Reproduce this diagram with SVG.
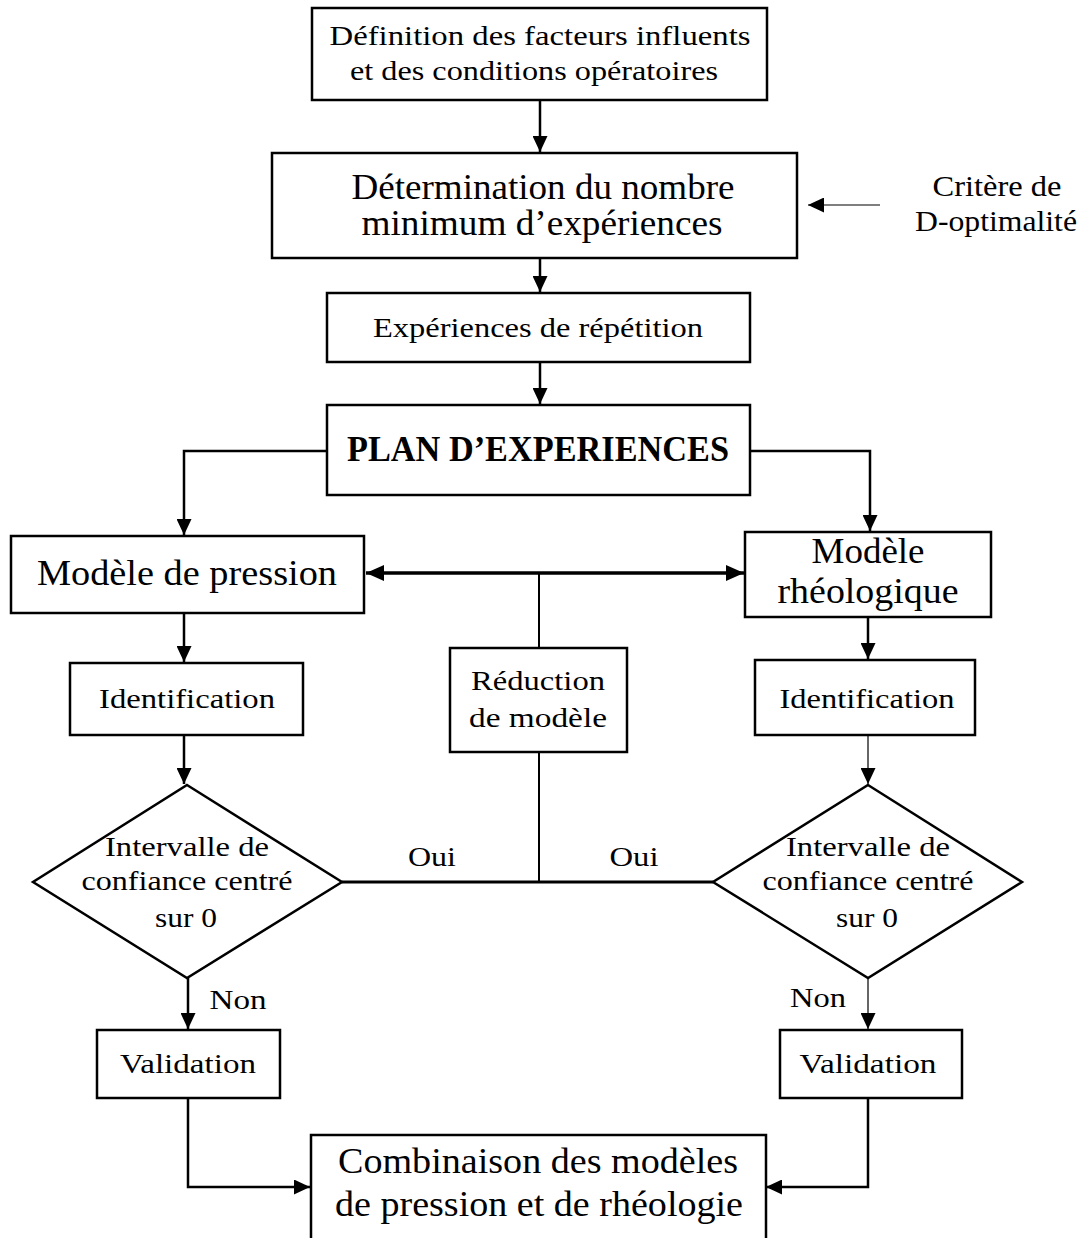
<svg xmlns="http://www.w3.org/2000/svg" width="1085" height="1238" viewBox="0 0 1085 1238">
<style>
.box{fill:#fff;stroke:#000;stroke-width:2.5}
.t{font-family:"Liberation Serif",serif;fill:#000;text-anchor:middle}
.s{font-size:28px}
.l{font-size:36px}
.ln{fill:none;stroke:#000;stroke-width:2.5}
.thin{fill:none;stroke:#000;stroke-width:1.2}
</style>
<defs>
<marker id="ahs" markerWidth="16" markerHeight="15" refX="16" refY="7.5" orient="auto" markerUnits="userSpaceOnUse" viewBox="0 0 16 15">
<path d="M0,0 L16,7.5 L0,15 z" fill="#000"/>
</marker>
<marker id="ahst" markerWidth="18" markerHeight="16" refX="0" refY="8" orient="auto" markerUnits="userSpaceOnUse" viewBox="0 0 18 16">
<path d="M18,0 L0,8 L18,16 z" fill="#000"/>
</marker>
<marker id="ahe" markerWidth="18" markerHeight="16" refX="18" refY="8" orient="auto" markerUnits="userSpaceOnUse" viewBox="0 0 18 16">
<path d="M0,0 L18,8 L0,16 z" fill="#000"/>
</marker>
</defs>
<g id="connectors">
<line class="ln" x1="540" y1="100" x2="540" y2="152" marker-end="url(#ahs)"/>
<line x1="880" y1="205" x2="808" y2="205" stroke="#555" stroke-width="1.5" marker-end="url(#ahs)"/>
<line class="ln" x1="540" y1="258" x2="540" y2="292" marker-end="url(#ahs)"/>
<line class="ln" x1="540" y1="362" x2="540" y2="404" marker-end="url(#ahs)"/>
<polyline class="ln" points="328,451 184,451 184,535" marker-end="url(#ahs)"/>
<polyline class="ln" points="750,451 870,451 870,531" marker-end="url(#ahs)"/>
<line x1="366" y1="573" x2="744" y2="573" stroke="#000" stroke-width="3.5" marker-start="url(#ahst)" marker-end="url(#ahe)"/>
<line x1="539" y1="573" x2="539" y2="648" stroke="#000" stroke-width="2"/>
<line class="ln" x1="184" y1="613" x2="184" y2="662" marker-end="url(#ahs)"/>
<line class="ln" x1="868" y1="617" x2="868" y2="659" marker-end="url(#ahs)"/>
<line class="ln" x1="184" y1="735" x2="184" y2="784" marker-end="url(#ahs)"/>
<line class="thin" x1="868" y1="735" x2="868" y2="784" marker-end="url(#ahs)"/>
<line x1="539" y1="752" x2="539" y2="882" stroke="#000" stroke-width="2"/>
<line x1="342" y1="882" x2="713" y2="882" stroke="#000" stroke-width="3"/>
<line class="ln" x1="188" y1="978" x2="188" y2="1029" marker-end="url(#ahs)"/>
<line class="thin" x1="868" y1="978" x2="868" y2="1029" marker-end="url(#ahs)"/>
<polyline class="ln" points="188,1098 188,1187 310,1187" marker-end="url(#ahs)"/>
<polyline class="ln" points="868,1098 868,1187 766,1187" marker-end="url(#ahs)"/>
<text class="t s" x="432" y="866" textLength="48" lengthAdjust="spacingAndGlyphs">Oui</text>
<text class="t s" x="634" y="866" textLength="49" lengthAdjust="spacingAndGlyphs">Oui</text>
<text class="t s" x="238" y="1009" textLength="57" lengthAdjust="spacingAndGlyphs">Non</text>
<text class="t s" x="818" y="1007" textLength="56" lengthAdjust="spacingAndGlyphs">Non</text>
</g>
<g id="n1"><rect class="box" x="312" y="8" width="455" height="92"/>
<text class="t s" x="540" y="45" textLength="421" lengthAdjust="spacingAndGlyphs">Définition des facteurs influents</text>
<text class="t s" x="534" y="80" textLength="368" lengthAdjust="spacingAndGlyphs">et des conditions opératoires</text></g>
<g id="n2"><rect class="box" x="272" y="153" width="525" height="105"/>
<text class="t l" x="543" y="199" textLength="383" lengthAdjust="spacingAndGlyphs">Détermination du nombre</text>
<text class="t l" x="542" y="235" textLength="361" lengthAdjust="spacingAndGlyphs">minimum d’expériences</text></g>
<g id="crit"><text class="t" font-size="30" x="997" y="196" textLength="129" lengthAdjust="spacingAndGlyphs">Critère de</text>
<text class="t" font-size="30" x="996" y="231" textLength="162" lengthAdjust="spacingAndGlyphs">D-optimalité</text></g>
<g id="n3"><rect class="box" x="327" y="293" width="423" height="69"/>
<text class="t s" x="538" y="337" textLength="330" lengthAdjust="spacingAndGlyphs">Expériences de répétition</text></g>
<g id="n4"><rect class="box" x="327" y="405" width="423" height="90"/>
<text class="t" x="538" y="461" font-size="36" font-weight="bold" textLength="382" lengthAdjust="spacingAndGlyphs">PLAN D’EXPERIENCES</text></g>
<g id="n5"><rect class="box" x="11" y="536" width="353" height="77"/>
<text class="t l" x="187" y="585" textLength="300" lengthAdjust="spacingAndGlyphs">Modèle de pression</text></g>
<g id="n6"><rect class="box" x="745" y="532" width="246" height="85"/>
<text class="t l" x="868" y="563" textLength="113" lengthAdjust="spacingAndGlyphs">Modèle</text>
<text class="t l" x="868" y="603" textLength="181" lengthAdjust="spacingAndGlyphs">rhéologique</text></g>
<g id="n7"><rect class="box" x="450" y="648" width="177" height="104"/>
<text class="t s" x="538" y="690" textLength="134" lengthAdjust="spacingAndGlyphs">Réduction</text>
<text class="t s" x="538" y="727" textLength="138" lengthAdjust="spacingAndGlyphs">de modèle</text></g>
<g id="n8"><rect class="box" x="70" y="663" width="233" height="72"/>
<text class="t s" x="187" y="708" textLength="176" lengthAdjust="spacingAndGlyphs">Identification</text></g>
<g id="n9"><rect class="box" x="755" y="660" width="220" height="75"/>
<text class="t s" x="867" y="708" textLength="175" lengthAdjust="spacingAndGlyphs">Identification</text></g>
<g id="n10"><polygon class="box" points="187,785 342,882 187,978 33,882"/>
<text class="t s" x="187" y="856" textLength="164" lengthAdjust="spacingAndGlyphs">Intervalle de</text>
<text class="t s" x="187" y="890" textLength="211" lengthAdjust="spacingAndGlyphs">confiance centré</text>
<text class="t s" x="186" y="927" textLength="62" lengthAdjust="spacingAndGlyphs">sur 0</text></g>
<g id="n11"><polygon class="box" points="868,785 1022,882 868,978 713,882"/>
<text class="t s" x="868" y="856" textLength="164" lengthAdjust="spacingAndGlyphs">Intervalle de</text>
<text class="t s" x="868" y="890" textLength="211" lengthAdjust="spacingAndGlyphs">confiance centré</text>
<text class="t s" x="867" y="927" textLength="62" lengthAdjust="spacingAndGlyphs">sur 0</text></g>
<g id="n12"><rect class="box" x="97" y="1030" width="183" height="68"/>
<text class="t s" x="188" y="1073" textLength="136" lengthAdjust="spacingAndGlyphs">Validation</text></g>
<g id="n13"><rect class="box" x="780" y="1030" width="182" height="68"/>
<text class="t s" x="868" y="1073" textLength="137" lengthAdjust="spacingAndGlyphs">Validation</text></g>
<g id="n14"><rect class="box" x="311" y="1135" width="455" height="120"/>
<text class="t l" x="538" y="1173" textLength="400" lengthAdjust="spacingAndGlyphs">Combinaison des modèles</text>
<text class="t l" x="539" y="1216" textLength="408" lengthAdjust="spacingAndGlyphs">de pression et de rhéologie</text></g>
</svg>
